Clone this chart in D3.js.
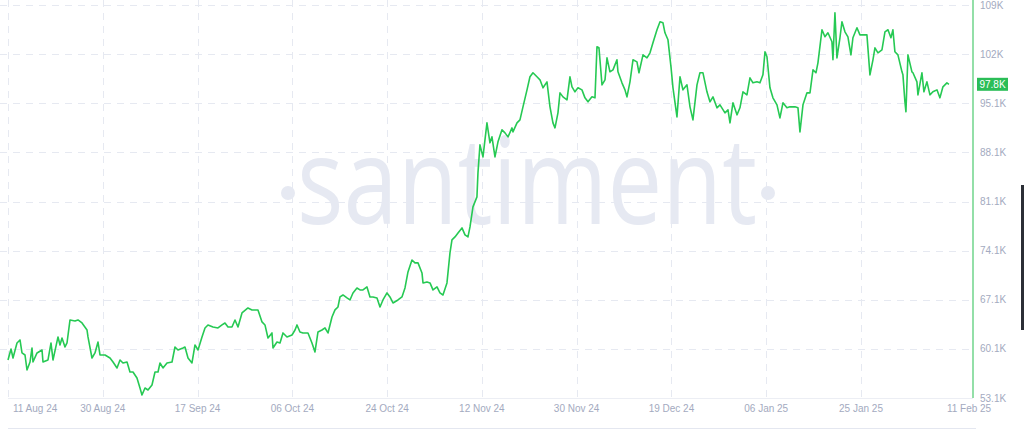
<!doctype html>
<html>
<head>
    <meta charset="UTF-8">
    <title>santiment price</title>
    <script src="https://d3js.org/d3.v7.min.js"></script>
    <style>
        body { margin: 0; background: #fff; }
        svg { display: block; }
        text { font-family: "Liberation Sans", Arial, sans-serif; }
    </style>
</head>
<body>
    <svg id="chart" width="1024" height="430"></svg>

    <script>
        // price in K; days counted from 11 Aug 24 12:00
        var startDate = "2024-08-11T12:00";
        var dayOffsets = [
            0.00, 0.59, 0.98, 1.76, 2.35, 2.74, 3.33, 3.72, 4.31, 4.70, 4.89, 5.68, 6.66, 6.85, 7.83, 8.42, 8.81, 9.79,
            10.18, 10.57, 11.16, 11.55, 12.14, 13.12, 13.70, 14.49, 15.47, 15.66, 16.44, 17.03, 17.62, 18.01, 18.99,
            19.97, 20.56, 21.34, 21.93, 22.51, 23.30, 23.88, 24.47, 25.25, 25.84, 26.23, 26.82, 27.41, 28.19, 28.78,
            29.37, 29.76, 30.34, 31.13, 32.11, 32.69, 33.28, 34.26, 34.65, 35.24, 36.02, 36.61, 37.20, 37.98, 38.57,
            39.15, 40.13, 41.11, 41.90, 42.48, 43.07, 43.85, 44.44, 45.03, 45.81, 46.98, 47.77, 48.94, 49.73, 50.31,
            50.90, 51.68, 51.88, 52.66, 53.25, 53.84, 54.62, 55.60, 56.19, 56.58, 57.16, 57.75, 58.73, 59.51, 60.10,
            60.69, 61.47, 62.06, 62.65, 63.43, 64.02, 64.60, 65.00, 65.58, 66.37, 66.95, 67.54, 68.32, 68.91, 69.50,
            70.28, 70.87, 71.46, 72.24, 72.83, 73.41, 74.20, 74.78, 75.37, 76.35, 77.13, 77.72, 78.31, 79.09, 79.68,
            80.27, 81.05, 81.25, 82.03, 82.62, 83.20, 83.99, 84.57, 85.16, 85.94, 86.53, 86.92, 87.51, 88.10, 88.88,
            89.47, 90.05, 90.45, 91.03, 91.81, 92.01, 92.40, 92.99, 93.77, 94.36, 94.75, 95.34, 95.93, 96.71, 97.30,
            97.89, 98.67, 98.86, 99.65, 100.23, 100.82, 101.61, 102.19, 102.78, 103.56, 104.15, 104.74, 105.52,
            106.11, 106.69, 107.09, 107.67, 108.07, 108.65, 109.44, 110.02, 110.42, 111.00, 111.59, 112.37, 112.96,
            113.55, 114.33, 114.92, 115.31, 115.70, 116.29, 116.88, 117.27, 117.85, 118.44, 119.22, 119.42, 120.20,
            120.79, 121.18, 121.77, 122.36, 123.14, 123.53, 124.32, 125.10, 125.69, 126.27, 127.06, 127.65, 128.23,
            128.62, 129.21, 129.80, 130.19, 130.97, 131.56, 132.14, 132.93, 133.52, 134.10, 134.89, 135.47, 136.06,
            136.84, 137.43, 138.02, 138.80, 139.39, 140.37, 140.96, 141.35, 141.93, 142.72, 143.30, 143.89, 144.67,
            145.26, 145.85, 146.63, 147.22, 147.80, 148.20, 148.59, 149.18, 149.76, 150.55, 151.13, 151.72, 152.50,
            153.09, 154.07, 154.66, 155.05, 155.64, 156.42, 157.01, 157.60, 158.18, 158.57, 159.36, 159.94, 160.53,
            161.31, 161.51, 161.90, 162.29, 162.88, 163.27, 163.86, 164.44, 165.03, 165.42, 166.21, 166.79, 167.38,
            168.16, 168.75, 169.34, 169.73, 170.32, 171.10, 171.69, 172.28, 172.86, 173.25, 173.64, 174.23, 175.02,
            175.21, 175.60, 175.80, 176.19, 176.97, 177.17, 177.95, 178.15, 178.93, 179.32, 179.91, 180.50, 181.08,
            181.87, 182.45, 183.04, 183.82, 184.21
        ];
        var prices = [
            58.52, 60.09, 58.80, 60.94, 61.37, 59.52, 59.23, 57.09, 58.23, 60.23, 58.23, 59.52, 59.94, 58.23, 58.52,
            60.94, 58.52, 61.80, 60.66, 61.65, 60.37, 60.94, 64.22, 64.08, 64.22, 63.79, 62.79, 61.80, 58.80, 59.52,
            61.08, 59.23, 59.23, 58.80, 58.23, 57.38, 58.52, 58.09, 58.23, 56.81, 56.81, 55.95, 54.53, 53.53, 54.53,
            54.24, 54.95, 56.81, 56.81, 58.09, 57.38, 58.09, 58.23, 60.37, 59.94, 60.23, 60.37, 58.80, 58.09, 60.66,
            59.94, 61.80, 63.08, 63.51, 63.22, 63.08, 63.51, 63.79, 63.22, 63.22, 64.22, 63.22, 65.22, 65.93, 65.65,
            65.65, 63.94, 63.51, 61.65, 62.37, 60.23, 61.08, 60.94, 62.37, 61.80, 62.08, 62.79, 63.51, 62.51, 62.37,
            62.37, 60.94, 59.66, 62.51, 62.79, 63.08, 62.37, 64.65, 65.65, 66.07, 67.50, 67.78, 67.36, 67.07, 68.07,
            68.78, 68.50, 68.50, 68.93, 67.50, 67.50, 67.36, 66.07, 67.07, 68.07, 67.50, 66.64, 67.07, 67.50, 68.78,
            71.06, 72.77, 72.35, 72.35, 70.92, 69.50, 69.64, 69.50, 68.50, 68.93, 68.07, 67.78, 69.50, 73.77, 75.63,
            76.05, 76.62, 77.34, 76.34, 76.05, 77.48, 80.33, 81.76, 85.18, 89.17, 87.46, 92.31, 89.46, 90.31, 87.46,
            89.60, 91.31, 90.88, 90.31, 91.59, 91.02, 92.31, 92.73, 94.59, 97.01, 98.87, 99.44, 98.87, 98.44, 97.30,
            98.15, 94.59, 92.31, 91.59, 93.73, 96.58, 96.01, 95.59, 98.87, 97.44, 96.73, 97.30, 97.01, 95.87, 95.30,
            96.01, 95.87, 103.14, 103.00, 97.72, 98.44, 101.57, 99.58, 99.86, 101.29, 99.58, 98.01, 97.01, 96.01,
            98.15, 101.29, 101.00, 99.44, 102.00, 101.57, 102.29, 103.71, 105.57, 106.71, 106.56, 105.14, 104.14,
            100.29, 97.30, 93.16, 98.87, 97.01, 97.72, 94.59, 92.73, 97.72, 99.44, 99.44, 96.73, 95.30, 96.01, 94.45,
            94.87, 93.73, 94.16, 92.31, 95.16, 93.45, 94.45, 96.73, 96.30, 98.72, 98.01, 98.15, 98.01, 99.15, 102.43,
            101.72, 97.30, 95.87, 94.87, 93.02, 95.16, 94.45, 94.59, 94.59, 94.45, 91.02, 94.87, 96.58, 96.58, 99.86,
            99.44, 100.86, 105.57, 104.57, 105.14, 103.86, 101.29, 107.99, 101.57, 104.43, 106.71, 105.28, 104.57,
            102.00, 104.43, 105.85, 104.85, 104.85, 104.85, 99.15, 101.29, 103.00, 102.29, 102.71, 105.28, 105.57,
            104.43, 105.57, 102.43, 102.00, 99.58, 99.15, 95.30, 93.88, 102.00, 99.58, 99.44, 98.15, 96.30, 99.44,
            96.73, 98.15, 96.30, 96.73, 97.01, 95.87, 97.44, 98.01, 97.80
        ];
        var tickDates = [
            "2024-08-11T12:00", "2024-08-30T01:20", "2024-09-17T14:40", "2024-10-06T04:00", "2024-10-24T17:20",
            "2024-11-12T06:40", "2024-11-30T19:55", "2024-12-19T09:15", "2025-01-06T22:35", "2025-01-25T12:00"
        ];
        var priceTicks = [53.1, 60.1, 67.1, 74.1, 81.1, 88.1, 95.1, 102.1, 109.1];

        var W = 1024, H = 430;
        var plotLeft = 8, axisX = 973, plotBottom = 398, plotTop = 5;
        var green = "#26c953";

        var parse = d3.timeParse("%Y-%m-%dT%H:%M");
        var t0 = parse(startDate);
        var ticks = tickDates.map(parse);
        var points = dayOffsets.map(function (d, i) {
            return { date: d3.timeMinute.offset(t0, Math.round(d * 1440)), value: prices[i] };
        });

        var x = d3.scaleTime()
            .domain([ticks[0], ticks[ticks.length - 1]])
            .range([plotLeft, 861]);
        var y = d3.scaleLinear()
            .domain([priceTicks[0], priceTicks[priceTicks.length - 1]])
            .range([plotBottom, plotTop]);

        var svg = d3.select("#chart");
        svg.append("rect").attr("width", W).attr("height", H).attr("fill", "#fff");

        // grid
        var grid = svg.append("g").attr("stroke", "#e6e9f1").attr("stroke-dasharray", "7,6");
        grid.selectAll("line.h").data(priceTicks.slice(1)).enter().append("line")
            .attr("class", "h")
            .attr("x1", 0).attr("x2", axisX)
            .attr("y1", function (d) { return Math.round(y(d)) + 0.5; })
            .attr("y2", function (d) { return Math.round(y(d)) + 0.5; });
        grid.selectAll("line.v").data(ticks).enter().append("line")
            .attr("class", "v")
            .attr("x1", function (d) { return Math.round(x(d)) + 0.5; })
            .attr("x2", function (d) { return Math.round(x(d)) + 0.5; })
            .attr("y1", 0).attr("y2", plotBottom);

        // watermark
        var wm = svg.append("g").attr("fill", "#e6e9f2");
        wm.append("text")
            .attr("x", 297).attr("y", 224)
            .attr("textLength", 460).attr("lengthAdjust", "spacingAndGlyphs")
            .style("font-family", "'Open Sans', 'Noto Sans', sans-serif")
            .style("font-size", "120px")
            .text("santiment");
        wm.append("circle").attr("cx", 288).attr("cy", 193).attr("r", 7);
        wm.append("circle").attr("cx", 768).attr("cy", 193).attr("r", 7);

        // bottom axis line
        svg.append("line")
            .attr("x1", plotLeft).attr("x2", axisX)
            .attr("y1", plotBottom + 0.5).attr("y2", plotBottom + 0.5)
            .attr("stroke", "#eceef4");

        // price line
        var line = d3.line()
            .x(function (d) { return x(d.date); })
            .y(function (d) { return y(d.value); });
        svg.append("path")
            .datum(points)
            .attr("d", line)
            .attr("fill", "none")
            .attr("stroke", green)
            .attr("stroke-width", 1.6)
            .attr("stroke-linejoin", "round");

        // right axis
        svg.append("line")
            .attr("x1", axisX).attr("x2", axisX)
            .attr("y1", 0).attr("y2", plotBottom)
            .attr("stroke", "#93dfa8").attr("stroke-width", 2);

        var fmt = d3.format(".3r");
        svg.selectAll("text.ylab").data(priceTicks).enter().append("text")
            .attr("class", "ylab")
            .attr("x", axisX + 7)
            .attr("y", function (d) { return y(d) + 3.5; })
            .attr("fill", "#a3aac0")
            .style("font-size", "10px")
            .text(function (d) { return fmt(d) + "K"; });

        // last price badge
        var last = points[points.length - 1];
        var by = y(last.value);
        svg.append("rect")
            .attr("x", axisX + 4).attr("y", by - 6.5)
            .attr("width", 31).attr("height", 13)
            .attr("fill", "#2bbd57");
        svg.append("text")
            .attr("x", axisX + 19.5).attr("y", by + 3.5)
            .attr("text-anchor", "middle")
            .attr("fill", "#fff")
            .style("font-size", "10px")
            .text(d3.format(".3r")(last.value) + "K");

        // x labels
        var dfmt = d3.timeFormat("%d %b %y");
        svg.selectAll("text.xlab").data(ticks).enter().append("text")
            .attr("class", "xlab")
            .attr("x", function (d, i) { return i === 0 ? x(d) + 5 : x(d); })
            .attr("y", 412)
            .attr("text-anchor", function (d, i) { return i === 0 ? "start" : "middle"; })
            .attr("fill", "#a3aac0")
            .style("font-size", "10px")
            .text(dfmt);
        svg.append("text")
            .attr("x", x(last.date) - 2)
            .attr("y", 412)
            .attr("fill", "#a3aac0")
            .style("font-size", "10px")
            .text(dfmt(last.date));

        // frame bits
        svg.append("line")
            .attr("x1", plotLeft).attr("x2", 976)
            .attr("y1", 428.5).attr("y2", 428.5)
            .attr("stroke", "#e4e7f0");
        svg.append("rect")
            .attr("x", 1021).attr("y", 185).attr("width", 3).attr("height", 145)
            .attr("fill", "#2b2f36");
    </script>
</body>
</html>
